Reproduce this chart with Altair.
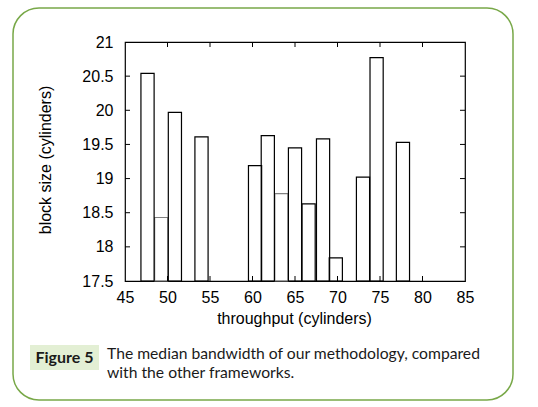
import altair as alt
import pandas as pd

# Box centres (throughput) and heights (block size)
throughput = [47.65, 49.26, 50.87, 54.0, 60.3, 61.8, 63.4, 65.0, 66.6, 68.3, 69.8, 73.0, 74.6, 77.7]
block_size = [20.54, 18.43, 19.97, 19.61, 19.19, 19.63, 18.78, 19.45, 18.63, 19.58, 17.84, 19.02, 20.77, 19.53]
# boxes whose outline is drawn in grey
grey_box = [False, True, False, False, False, False, True, False, False, False, False, False, False, False]

x_ticks = [45, 50, 55, 60, 65, 70, 75, 80, 85]
y_ticks = [17.5, 18, 18.5, 19, 19.5, 20, 20.5, 21]

BOX_WIDTH = 1.55
W, H = 340, 239
FONT = "Liberation Sans"
CAPTION_FONT = "Lato"

bars = pd.DataFrame({"x": throughput, "y": block_size, "grey": grey_box})
xs = alt.Scale(domain=[45, 85], nice=False, zero=False)
ys = alt.Scale(domain=[17.5, 21], nice=False, zero=False)

common_axis = dict(ticks=False, domain=False, grid=False, labelFont=FONT,
                   labelFontSize=16, labelColor="black", labelOverlap=False,
                   labelFlush=False, titleFont=FONT, titleFontSize=16,
                   titleFontWeight="normal", titleColor="black", format="~g")
AX = alt.Axis(values=x_ticks, labelPadding=8, title="throughput (cylinders)",
              titleX=W / 2 - 1, titleY=37, titleBaseline="middle", **common_axis)
AY = alt.Axis(values=y_ticks, labelPadding=12, title="block size (cylinders)",
              titleX=-80, titleY=H / 2 - 2, titleBaseline="middle", **common_axis)

base = alt.Chart(bars).transform_calculate(
    x0=f"datum.x - {BOX_WIDTH / 2}", x1=f"datum.x + {BOX_WIDTH / 2}", ybase="17.5"
)

def boxes(grey):
    return base.transform_filter(
        "datum.grey" if grey else "!datum.grey"
    ).mark_rect(
        fill=None, fillOpacity=0, stroke="#808080" if grey else "black", strokeWidth=1.2
    ).encode(
        x=alt.X("x0:Q", scale=xs, axis=AX),
        x2="x1:Q",
        y=alt.Y("y:Q", scale=ys, axis=AY),
        y2="ybase:Q",
    )

# inward tick marks on all four sides
xt = pd.DataFrame({"t": x_ticks[1:-1]})
yt = pd.DataFrame({"t": y_ticks[1:-1]})
tick_bottom = alt.Chart(xt).mark_rule(color="black").encode(
    x=alt.X("t:Q", scale=xs, axis=AX), y=alt.value(H), y2=alt.value(H - 5))
tick_top = alt.Chart(xt).mark_rule(color="black").encode(
    x=alt.X("t:Q", scale=xs, axis=AX), y=alt.value(0), y2=alt.value(5))
tick_left = alt.Chart(yt).mark_rule(color="black").encode(
    y=alt.Y("t:Q", scale=ys, axis=AY), x=alt.value(0), x2=alt.value(5))
tick_right = alt.Chart(yt).mark_rule(color="black").encode(
    y=alt.Y("t:Q", scale=ys, axis=AY), x=alt.value(W), x2=alt.value(W - 5))

one = pd.DataFrame({"k": [0]})

# rounded figure frame
frame = alt.Chart(one).mark_rect(
    fill=None, fillOpacity=0, stroke="#78a848", strokeWidth=1.5, cornerRadius=26
).encode(x=alt.value(-112), x2=alt.value(388), y=alt.value(-34), y2=alt.value(358))

label_bg = alt.Chart(one).mark_rect(fill="#e3efd4").encode(
    x=alt.value(-95), x2=alt.value(-26), y=alt.value(303), y2=alt.value(328))

label = alt.Chart(one).mark_text(
    text="Figure 5", font=CAPTION_FONT, fontSize=16, fontWeight="bold",
    color="#1a1a1a", align="center", baseline="middle"
).encode(x=alt.value(-60.5), y=alt.value(315.5))

caption1 = alt.Chart(one).mark_text(
    text="The median bandwidth of our methodology, compared", font=CAPTION_FONT,
    fontSize=15.7, color="#1a1a1a", align="left", baseline="alphabetic"
).encode(x=alt.value(-18), y=alt.value(317))

caption2 = alt.Chart(one).mark_text(
    text="with the other frameworks.", font=CAPTION_FONT,
    fontSize=15.7, color="#1a1a1a", align="left", baseline="alphabetic"
).encode(x=alt.value(-18), y=alt.value(336))

chart = alt.layer(
    frame, label_bg, label, caption1, caption2,
    boxes(True), boxes(False),
    tick_bottom, tick_top, tick_left, tick_right,
).properties(
    width=W, height=H,
    autosize=alt.AutoSizeParams(type="none"),
    padding={"left": 125, "top": 42, "right": 73, "bottom": 126},
    background="white",
).configure_view(stroke="black", strokeWidth=1.2
).configure_axis(labelOverlap=False)

chart.save("out.html", embed_options={"renderer": "svg", "actions": False})
